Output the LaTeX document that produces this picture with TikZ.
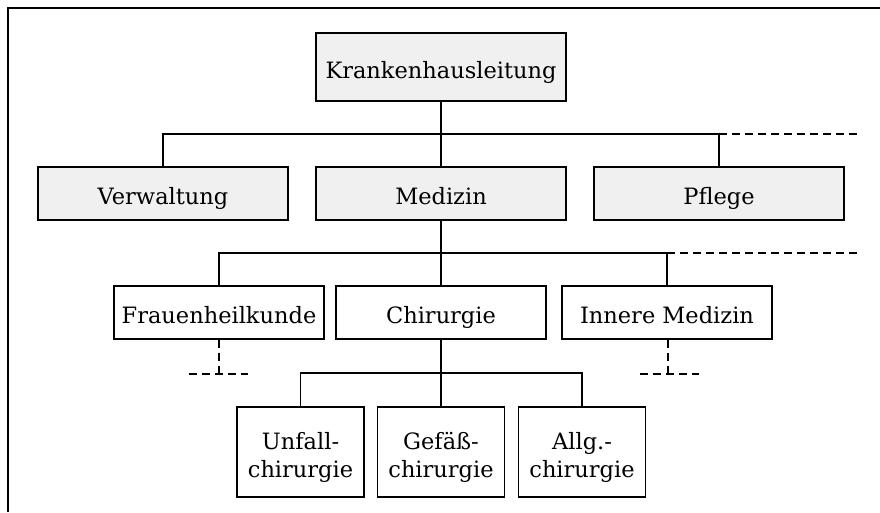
\documentclass[tikz,border=0pt]{standalone}
\usepackage{fontspec}
\setmainfont{DejaVu Serif}
\usetikzlibrary{calc}
\definecolor{boxgray}{HTML}{F0F0F0}
\begin{document}
\begin{tikzpicture}[x=1pt,y=-1pt,
  unit/.style={draw=black,line width=1.4pt,rectangle,inner sep=0pt,
    font=\fontsize{22.5}{28}\selectfont,align=center,
    text height=22pt,text depth=0pt},
  shaded/.style={unit,fill=boxgray},
  plain/.style={unit,fill=white},
  twoline/.style={plain,text height=50pt,minimum width=127pt,minimum height=90pt},
  link/.style={line width=1.4pt},
  trunk/.style={line width=1.8pt},
  open/.style={line width=1.4pt,dash pattern=on 8pt off 5pt}]
\useasboundingbox (0,0) rectangle (880,512);
% outer frame
\draw[line width=1.8pt] (880,8) -- (8,8) -- (8,512);

% level 0 and 1
\node[shaded,minimum width=250pt,minimum height=68pt] (top) at (441,67) {Krankenhausleitung};
\node[shaded,minimum width=250pt,minimum height=53pt] (verw) at (163,193.5) {Verwaltung};
\node[shaded,minimum width=250pt,minimum height=53pt] (med) at (441,193.5) {Medizin};
\node[shaded,minimum width=250pt,minimum height=53pt] (pfl) at (719,193.5) {Pflege};

% level 2
\node[plain,minimum width=210pt,minimum height=53pt] (frau) at (219,312.5) {Frauenheilkunde};
\node[plain,minimum width=210pt,minimum height=53pt] (chir) at (441,312.5) {Chirurgie};
\node[plain,minimum width=210pt,minimum height=53pt] (inn) at (667,312.5) {Innere Medizin};

% level 3
\node[twoline] (unf) at (300.5,452) {Unfall-\\chirurgie};
\node[twoline] (gef) at (441,452) {Gefäß-\\chirurgie};
\node[twoline] (allg) at (582,452) {Allg.-\\chirurgie};

% bus points
\coordinate (busA) at (719,134);
\coordinate (busAend) at (858,134);
\coordinate (busB) at (667,253);
\coordinate (busBend) at (858,253);
\coordinate (busC) at (582,373);
\coordinate (frauL) at (189,374);
\coordinate (frauM) at (219,374);
\coordinate (frauR) at (248,374);
\coordinate (innL) at (640,374);
\coordinate (innM) at (668,374);
\coordinate (innR) at (699,374);

% connectors, level 0 -> 1
\draw[trunk] (top.south) -- (med.north);
\draw[link] (verw.north) |- (busA) -- (pfl.north);
\draw[open] (busA) -- (busAend);

% connectors, level 1 -> 2
\draw[trunk] (med.south) -- (chir.north);
\draw[link] (frau.north) |- (busB) -- (inn.north);
\draw[open] (busB) -- (busBend);

% connectors, level 2 -> 3
\draw[trunk] (chir.south) -- (gef.north);
\draw[link] (unf.north) |- (busC) -- (allg.north);

% open branches below
\draw[open] (frau.south) -- (frauM);
\draw[open] (frauL) -- (frauR);
\draw[open] ([xshift=1pt]inn.south) -- (innM);
\draw[open] (innL) -- (innR);
\end{tikzpicture}
\end{document}
